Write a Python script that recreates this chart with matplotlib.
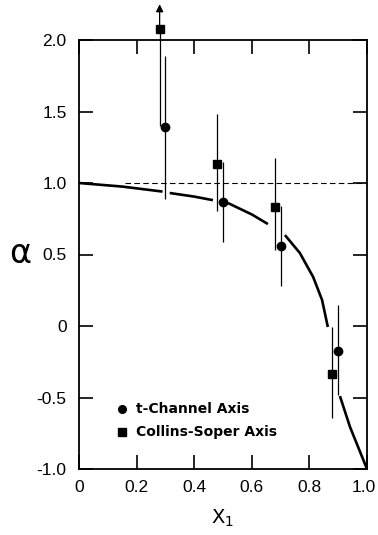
import matplotlib
matplotlib.use("Agg")
import matplotlib.pyplot as plt
import matplotlib.transforms as mtransforms
import numpy as np

# t-Channel axis (circles)
tc_x = [0.30, 0.50, 0.70, 0.90]
tc_y = [1.39, 0.87, 0.56, -0.175]
tc_lo = [0.50, 0.28, 0.28, 0.31]
tc_hi = [0.50, 0.28, 0.28, 0.32]

# Collins-Soper axis (squares)
cs_x = [0.28, 0.48, 0.68, 0.88]
cs_y = [2.077, 1.133, 0.832, -0.336]
cs_lo = [0.68, 0.33, 0.30, 0.31]
cs_hi = [0.0, 0.35, 0.34, 0.33]
cs_arrow_top = 2.25  # first point's error bar continues off scale

# theory curve, drawn in segments (gaps near data points)
curve_segments = [
    ([0.0, 0.15, 0.29], [1.0, 0.975, 0.94]),
    ([0.315, 0.40, 0.465], [0.93, 0.905, 0.88]),
    ([0.517, 0.60, 0.656], [0.86, 0.78, 0.713]),
    ([0.715, 0.767, 0.813, 0.844, 0.864], [0.636, 0.51, 0.343, 0.182, -0.007]),
    ([0.906, 0.941, 1.0], [-0.49, -0.706, -1.0]),
]

dash_x = [0.16, 1.0]
dash_y = [1.0, 1.0]

x_ticks = [0, 0.2, 0.4, 0.6, 0.8, 1.0]
x_labels = ["0", "0.2", "0.4", "0.6", "0.8", "1.0"]
y_ticks = [-1.0, -0.5, 0, 0.5, 1.0, 1.5, 2.0]
y_labels = ["-1.0", "-0.5", "0", "0.5", "1.0", "1.5", "2.0"]

fig = plt.figure(figsize=(3.78, 5.35), dpi=100)
ax = fig.add_axes([79/378, 1-469/535, (367-79)/378, (469-40)/535])
ax.set_xlim(0, 1.0)
ax.set_ylim(-1.0, 2.0)

for sx, sy in curve_segments:
    ax.plot(sx, sy, color="black", lw=1.9, solid_capstyle="butt")
ax.plot(dash_x, dash_y, color="black", lw=0.8, dashes=(5, 3))

ax.errorbar(tc_x, tc_y, yerr=[tc_lo, tc_hi], fmt="o", color="black",
            ms=6, elinewidth=0.9, capsize=0, clip_on=False)
ax.errorbar(cs_x, cs_y, yerr=[cs_lo, cs_hi], fmt="s", color="black",
            ms=6, elinewidth=0.9, capsize=0, clip_on=False)
ax.annotate("", xy=(cs_x[0], cs_arrow_top), xytext=(cs_x[0], cs_y[0]),
            arrowprops=dict(arrowstyle="-|>", color="black", lw=0.9,
                            mutation_scale=11, shrinkA=0, shrinkB=0),
            annotation_clip=False)

ax.set_xticks(x_ticks)
ax.set_xticklabels(x_labels, fontfamily="Liberation Sans")
ax.set_yticks(y_ticks)
ax.set_yticklabels(y_labels, fontfamily="Liberation Sans")
ax.tick_params(direction="in", length=10, width=1.2, top=True, right=True,
               labelsize=12.5, pad=8)
ax.tick_params(axis="y", pad=9)
for s in ax.spines.values():
    s.set_linewidth(1.3)

# nudge the last x label so it stays within the figure
last = ax.get_xticklabels()[-1]
last.set_transform(last.get_transform() +
                   mtransforms.ScaledTranslation(-3/100, 0, fig.dpi_scale_trans))

fig.text(20/378, 1-254/535, "α", fontsize=24, ha="center", va="center")
fig.text(222/378, 1-518/535, r"X$_1$", fontsize=14, ha="center", va="center")

# legend
ax.plot([0.149], [-0.578], "o", color="black", ms=5.5)
ax.plot([0.149], [-0.739], "s", color="black", ms=5.5)
ax.text(0.197, -0.578, "t-Channel Axis", fontsize=10, fontweight="bold",
        va="center", ha="left")
ax.text(0.197, -0.739, "Collins-Soper Axis", fontsize=10, fontweight="bold",
        va="center", ha="left")

fig.savefig("out.png", dpi=100)
